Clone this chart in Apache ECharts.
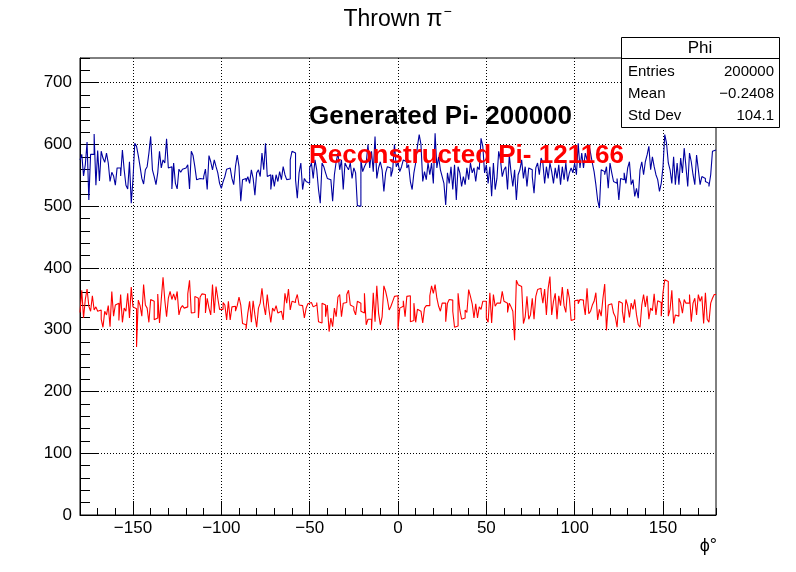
<!DOCTYPE html>
<html><head><meta charset="utf-8">
<script src="https://cdn.jsdelivr.net/npm/echarts@6/dist/echarts.min.js"></script>
<style>html,body{margin:0;padding:0;background:#fff}#c{width:796px;height:572px}</style>
</head><body><div id="c"></div>
<script>
// phi range and binning
const phiMin = -180, phiMax = 180;
const yMax = 740;
const xTickLabels = [-150, -100, -50, 0, 50, 100, 150];
const yTickLabels = [0, 100, 200, 300, 400, 500, 600, 700];

// Generated pi- (360 bins of 1 degree)
const generated = [
575,584,549,567,604,510,584,584,617,534,590,541,589,578,571,586,570,540,555,549,
534,562,562,549,591,559,534,528,572,505,544,602,597,582,564,545,536,559,564,586,
613,559,548,535,554,589,562,575,570,609,562,564,528,570,537,528,560,555,560,562,
565,567,528,589,582,564,543,545,542,544,548,560,527,582,572,559,575,564,554,537,
529,540,548,560,562,562,545,
535,564,583,564,508,543,545,540,548,537,559,545,518,554,559,548,586,559,602,548,
551,527,551,532,551,540,556,543,564,551,543,544,575,589,586,543,513,554,570,527,
545,540,537,562,570,545,575,559,527,505,570,564,554,545,543,540,508,551,572,586,
559,575,527,570,564,559,570,545,562,554,501,500,575,556,564,570,600,562,589,556,
613,545,562,572,559,524,554,564,
562,548,559,600,564,570,556,564,575,572,562,567,540,527,554,570,597,616,600,540,
556,543,570,551,570,537,618,562,580,559,548,537,502,554,537,564,527,567,510,564,
554,532,548,535,562,543,570,554,562,540,564,559,610,597,554,567,537,564,516,570,
527,545,589,575,548,559,564,527,583,554,532,559,510,551,559,575,545,564,532,562,
559,548,521,562,570,551,578,570,
537,564,545,570,556,537,562,545,567,535,564,543,570,540,554,562,554,570,551,602,
562,586,562,586,575,600,586,570,556,535,510,497,559,556,551,564,529,570,554,540,
537,545,510,545,543,554,537,562,572,535,543,516,529,513,559,572,551,572,583,597,
559,580,564,551,543,524,537,564,616,602,570,559,537,580,535,570,535,578,554,594,
564,532,586,572,551,535,583,559,535,548,545,540,537,532,551,589,591
];

// Reconstructed pi- (360 bins of 1 degree)
const reconstructed = [
328,364,319,349,366,338,330,355,332,337,330,332,317,304,330,324,339,305,362,322,
340,343,315,357,312,335,330,359,319,369,337,334,272,348,339,322,373,340,335,312,
349,346,316,319,358,311,349,385,348,321,351,362,349,358,348,362,324,335,339,335,
337,358,380,327,328,354,351,319,353,358,357,327,351,335,324,373,327,370,351,333,
333,344,340,316,346,316,337,338,330,
339,353,340,310,308,301,327,346,312,347,324,304,335,343,367,340,324,
357,332,312,335,330,339,327,330,330,316,359,343,366,332,346,344,348,357,340,339,
338,319,335,342,344,343,337,340,344,313,311,343,340,321,340,297,319,305,335,321,
353,357,321,343,344,357,364,340,337,332,324,346,343,330,327,359,308,317,317,299,
360,313,371,327,308,321,371,362,349,
332,338,346,354,355,300,335,338,347,321,354,355,313,315,343,312,333,
330,330,311,335,339,339,355,371,359,373,351,338,330,343,343,313,343,349,348,330,
304,306,359,332,317,319,332,328,365,354,342,319,342,319,337,333,346,346,319,312,
360,311,357,338,343,343,340,362,346,343,328,343,337,330,283,380,373,370,367,310,
321,354,317,324,351,317,354,365,367,362,343,366,324,367,386,
324,346,359,317,355,339,369,339,328,366,351,315,317,347,348,342,349,
348,343,324,367,326,330,340,346,360,316,333,322,351,374,299,340,342,339,327,321,
304,346,343,330,311,349,339,320,343,333,349,324,308,304,340,357,337,355,317,335,
331,358,324,347,344,322,360,381,378,322,333,364,310,324,322,351,343,327,349,343,
343,357,313,343,351,324,357,346,354,310,360,317,312,343,351,357
];

const statsTitle = 'Phi';
const statsRows = [['Entries', '200000'], ['Mean', '\u22120.2408'], ['Std Dev', '104.1']];

function toSteps(vals) {
  const n = vals.length, w = (phiMax - phiMin) / n;
  const pts = vals.map((v, i) => [phiMin + i * w, v]);
  pts.push([phiMax, vals[n - 1]]);
  return pts;
}

const FONT = '"Liberation Sans", Arial, Helvetica, sans-serif';
const W = 796, H = 572;
const L = 80, R = 716, T = 58, B = 515;
const pxX = v => L + (v - phiMin) / (phiMax - phiMin) * (R - L);
const pxY = v => B - v / yMax * (B - T);
const minus = v => String(v).replace('-', '\u2212');
const dotted = { color: '#000', width: 1, type: [1, 2] };

// title metrics
const titleFont = '23px ' + FONT;
const mctx = document.createElement('canvas').getContext('2d');
mctx.font = titleFont;
const titleMain = 'Thrown \u03c0';
const tW = mctx.measureText(titleMain).width;
const titleLeft = 398 - (tW + 10) / 2;

const chart = echarts.init(document.getElementById('c'), null, { renderer: 'canvas' });

const option = {
  animation: false,
  backgroundColor: '#fff',
  grid: [
    { left: L, right: W - R, top: T, bottom: H - B, show: true, borderColor: '#000', borderWidth: 1, backgroundColor: 'transparent' },
    { left: pxX(xTickLabels[0]), right: W - pxX(xTickLabels[xTickLabels.length - 1]), top: T, bottom: H - B },
    { left: L, right: W - R, top: pxY(yTickLabels[yTickLabels.length - 1]), bottom: H - B }
  ],
  xAxis: [
    { gridIndex: 0, type: 'value', min: phiMin, max: phiMax, interval: 10,
      axisLine: { show: true, onZero: false, lineStyle: { color: '#000', width: 1 } },
      axisTick: { show: true, inside: true, length: 7, lineStyle: { color: '#000' } },
      axisLabel: { show: false }, splitLine: { show: false } },
    { gridIndex: 1, type: 'value', min: xTickLabels[0], max: xTickLabels[xTickLabels.length - 1],
      interval: xTickLabels[1] - xTickLabels[0],
      axisLine: { show: false, onZero: false },
      axisTick: { show: true, inside: true, length: 14, lineStyle: { color: '#000' } },
      axisLabel: { show: true, color: '#000', fontSize: 17, fontFamily: FONT, margin: 5, formatter: minus },
      splitLine: { show: true, lineStyle: dotted } },
    { gridIndex: 2, type: 'value', show: false, min: 0, max: 1 }
  ],
  yAxis: [
    { gridIndex: 0, type: 'value', min: 0, max: yMax, interval: 20,
      axisLine: { show: true, onZero: false, lineStyle: { color: '#000', width: 1 } },
      axisTick: { show: true, inside: true, length: 10, lineStyle: { color: '#000' } },
      axisLabel: { show: false }, splitLine: { show: false } },
    { gridIndex: 1, type: 'value', show: false, min: 0, max: 1 },
    { gridIndex: 2, type: 'value', min: yTickLabels[0], max: yTickLabels[yTickLabels.length - 1],
      interval: yTickLabels[1] - yTickLabels[0],
      axisLine: { show: false, onZero: false },
      axisTick: { show: true, inside: true, length: 19, lineStyle: { color: '#000' } },
      axisLabel: { show: true, color: '#000', fontSize: 17, fontFamily: FONT, margin: 8 },
      splitLine: { show: true, lineStyle: dotted } }
  ],
  series: [
    { type: 'line', xAxisIndex: 0, yAxisIndex: 0, data: toSteps(generated), step: 'end',
      symbol: 'none', showSymbol: false, z: 5,
      lineStyle: { color: '#0000a0', width: 1.1 } },
    { type: 'line', xAxisIndex: 0, yAxisIndex: 0, data: toSteps(reconstructed), step: 'end',
      symbol: 'none', showSymbol: false, z: 5,
      lineStyle: { color: '#ff0000', width: 1.1 } }
  ],
  graphic: [
    { type: 'text', z: 100, x: titleLeft, y: 20,
      style: { text: titleMain, font: titleFont, fill: '#000', verticalAlign: 'middle' } },
    { type: 'text', z: 100, x: titleLeft + tW + 1, y: 12,
      style: { text: '\u2212', font: '14px ' + FONT, fill: '#000', verticalAlign: 'middle' } },
    { type: 'text', z: 100, x: 309, y: 117,
      style: { text: 'Generated Pi- 200000', font: 'bold 26px ' + FONT, fill: '#000', verticalAlign: 'middle' } },
    { type: 'text', z: 100, x: 309, y: 156,
      style: { text: 'Reconstructed Pi- 121166', font: 'bold 26px ' + FONT, fill: '#ff0000', verticalAlign: 'middle' } },
    { type: 'text', z: 100, x: 717, y: 546,
      style: { text: '\u03d5\u00b0', font: '18px ' + FONT, fill: '#000', align: 'right', verticalAlign: 'middle' } },
    { type: 'rect', z: 100, shape: { x: 621.5, y: 37.5, width: 158, height: 90 },
      style: { fill: '#fff', stroke: '#000', lineWidth: 1 } },
    { type: 'line', z: 101, shape: { x1: 621.5, y1: 58.5, x2: 779.5, y2: 58.5 },
      style: { stroke: '#000', lineWidth: 1 } },
    { type: 'text', z: 102, x: 700, y: 48,
      style: { text: statsTitle, font: '17px ' + FONT, fill: '#000', align: 'center', verticalAlign: 'middle' } }
  ].concat(statsRows.flatMap((r, i) => [
    { type: 'text', z: 102, x: 628, y: 72 + i * 22,
      style: { text: r[0], font: '15px ' + FONT, fill: '#000', verticalAlign: 'middle' } },
    { type: 'text', z: 102, x: 774, y: 72 + i * 22,
      style: { text: r[1], font: '15px ' + FONT, fill: '#000', align: 'right', verticalAlign: 'middle' } }
  ]))
};
chart.setOption(option);
</script>
</body></html>
